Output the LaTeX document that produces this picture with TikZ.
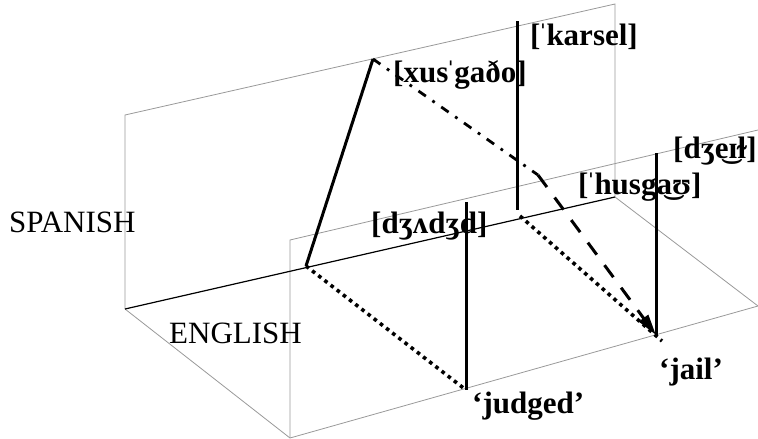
\documentclass[tikz,border=0pt]{standalone}
\usepackage{fontspec}
\setmainfont{Liberation Serif}
\usetikzlibrary{arrows.meta}
\newcommand{\strs}{\kern-0.09em ˈ\kern-0.05em}
\begin{document}
\begin{tikzpicture}[x=1pt,y=-1pt,
  plane/.style={draw=black!40, line width=0.8pt},
  backedge/.style={draw=black, line width=1.2pt},
  stem/.style={draw=black, line width=3pt},
  dotline/.style={draw=black, line width=3.6pt, dash pattern=on 3.6pt off 4.2pt},
  dashdotline/.style={draw=black, line width=2.8pt, dash pattern=on 9pt off 8pt on 2.8pt off 8pt},
  dashline/.style={draw=black, line width=3pt, dash pattern=on 15pt off 13pt},
  lbl/.style={font=\fontsize{31}{36}\selectfont\bfseries, inner sep=0pt, anchor=base west},
  plbl/.style={font=\fontsize{31}{36}\selectfont, inner sep=0pt, anchor=base west}]
\useasboundingbox (0,0) rectangle (758,439);
% plane corners
\coordinate (SL) at (125,115);
\coordinate (SR) at (615,4);
\coordinate (B1) at (125,309);
\coordinate (B2) at (615,197);
\coordinate (F1) at (290,438);
\coordinate (F2) at (290,240);
\coordinate (F3) at (758,130);
\coordinate (F4) at (758,306);
% planes
\draw[plane] (B1) -- (SL) -- (SR) -- (B2);
\draw[plane] (B1) -- (F1) -- (F4);
\draw[plane] (B2) -- (F4);
\draw[plane] (F1) -- (F2) -- (F3);
\draw[backedge] (B1) -- (B2);
% key points
\coordinate (P0) at (306,266);
\coordinate (X) at (373,59);
\coordinate (K) at (538,175);
\coordinate (J) at (656,335);
\coordinate (KT) at (517,21);
\coordinate (KB) at (517,210);
\coordinate (DT) at (466,202);
\coordinate (DB) at (466,390);
\coordinate (JT) at (656,153);
\coordinate (KS) at (520,216);
\coordinate (JE) at (662,341);
% labels
\node[plbl] (spanish) at (9,232) {SPANISH};
\node[plbl] (english) at (169,343) {ENGLISH};
\node[lbl] (karsel) at (530,45) {[\strs karsel]};
\node[lbl] (xus) at (393,82) {[xus\strs gaðo]};
\node[lbl] (dzeil) at (673,158) {[dʒe͜ɪɫ]};
\node[lbl] (husgau) at (578,194) {[\strs husga͜ʊ]};
\node[lbl] (dzadzd) at (371,233) {[dʒʌdʒd]};
\node[lbl] (judged) at (472,413) {‘judged’};
\node[lbl] (jail) at (659,379) {‘jail’};
% connectors
\draw[stem] (KT) -- (KB);
\draw[stem] (DT) -- (DB);
\draw[stem] (JT) -- (J);
\draw[stem, line join=miter] (P0) -- (X);
\draw[dashdotline] (X) -- (K);
\draw[dashline, -{Triangle[length=21pt,width=11pt]}] (K) -- (J);
\draw[dotline] (P0) -- (DB);
\draw[dotline] (KS) -- (JE);
\end{tikzpicture}
\end{document}
